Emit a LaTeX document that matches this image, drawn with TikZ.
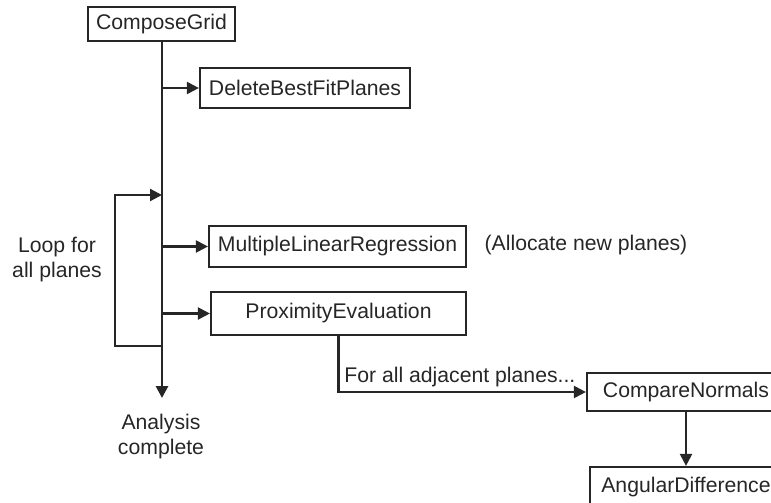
\documentclass[tikz,border=0pt]{standalone}
\usepackage{fontspec}
\setmainfont{Liberation Sans}
\usetikzlibrary{arrows.meta}
\begin{document}
\begin{tikzpicture}[x=0.5pt,y=-0.5pt,
  every node/.style={font=\fontsize{10.6}{12.5}\selectfont, text=black!85},
  box/.style={draw=black!85, line width=1.1pt, inner sep=0pt, minimum height=20pt},
  lbl/.style={align=center, inner sep=0pt},
  conn/.style={draw=black!85, line width=1.1pt},
  arr/.style={conn, -{Triangle[length=6pt,width=6pt]}}]
\useasboundingbox (0,0) rectangle (771,503);
% boxes
\node[box, minimum width=73.5pt, minimum height=17pt] (cg) at (161.5,24) {ComposeGrid};
\node[box, minimum width=105pt] (del) at (305,88) {DeleteBestFitPlanes};
\node[box, minimum width=128.5pt, minimum height=20.5pt] (mlr) at (337.5,246.5) {MultipleLinearRegression};
\node[box, minimum width=127.5pt, minimum height=21.5pt] (prox) at (338.5,313.5) {ProximityEvaluation};
\node[box, minimum width=99pt, minimum height=19pt] (cmp) at (686,392) {CompareNormals};
\node[box, minimum width=96pt] (ang) at (686,487) {AngularDifference};
% labels
\node[lbl] (alloc) at (586,245) {(Allocate new planes)};
\node[lbl] (loop) at (57,260) {Loop for\\all planes};
\node[lbl] (done) at (161,437) {Analysis\\complete};
\node[lbl, anchor=west] (adj) at (344,377) {For all adjacent planes...};
% coordinates on trunk
\coordinate (tEnd) at (162,398);
\coordinate (jDel) at (162,88);
\coordinate (jLoopIn) at (162,195);
\coordinate (jMlr) at (162,246.5);
\coordinate (jProx) at (162,313.5);
\coordinate (jLoopOut) at (162,346);
\coordinate (loopL) at (115,346);
% trunk
\draw[arr, line width=1.4pt] (cg.south -| tEnd) -- (tEnd);
% branches
\draw[arr] (jDel) -- (del.west);
\draw[arr] (jMlr) -- (mlr.west);
\draw[arr] (jProx) -- (prox.west);
% loop
\draw[arr] (jLoopOut) -- (loopL) |- (jLoopIn);
% proximity to compare
\draw[arr] (prox.south) |- (cmp.west);
\draw[arr] (cmp.south) -- (ang.north);
\end{tikzpicture}
\end{document}
